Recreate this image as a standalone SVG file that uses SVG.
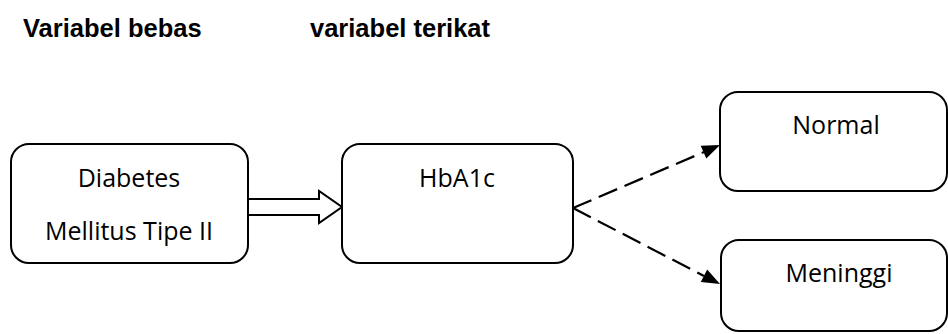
<svg xmlns="http://www.w3.org/2000/svg" width="948" height="334" viewBox="0 0 948 334">
<style>
.box{fill:#fff;stroke:#000;stroke-width:2}
.t{font-family:"Open Sans","Noto Sans",sans-serif;font-size:25px;fill:#000;text-anchor:middle}
.h{font-family:"Liberation Sans",Arial,sans-serif;font-size:25.5px;font-weight:bold;fill:#000}
.dash{fill:none;stroke:#000;stroke-width:2.2;stroke-dasharray:20 8}
.head{fill:#000}
</style>
<rect width="948" height="334" fill="#fff"/>
<text class="h" x="23" y="37">Variabel bebas</text>
<text class="h" x="310" y="37">variabel terikat</text>
<g id="connectors">
<path d="M248,199 H319 V191 L342,207 L319,223 V215 H248" fill="#fff" stroke="#000" stroke-width="2" stroke-linejoin="miter"/>
<path class="dash" d="M573,208 L704,152"/>
<path class="dash" d="M573,208 L704,276"/>
<path class="head" d="M720,145 L700.7,145.7 L706.3,158.5 Z"/>
<path class="head" d="M720,284 L707.2,269.5 L700.8,281.9 Z"/>
</g>
<g id="node-dm">
<rect class="box" x="11" y="144" width="237" height="119" rx="18"/>
<text class="t" x="129" y="187">Diabetes</text>
<text class="t" x="129" y="240">Mellitus Tipe II</text>
</g>
<g id="node-hba1c">
<rect class="box" x="342" y="144" width="231" height="119" rx="18"/>
<text class="t" x="457" y="187">HbA1c</text>
</g>
<g id="node-normal">
<rect class="box" x="720" y="92" width="227" height="99" rx="18"/>
<text class="t" x="836" y="134">Normal</text>
</g>
<g id="node-meninggi">
<rect class="box" x="721" y="240" width="226" height="91" rx="18"/>
<text class="t" x="839" y="282">Meninggi</text>
</g>
</svg>
